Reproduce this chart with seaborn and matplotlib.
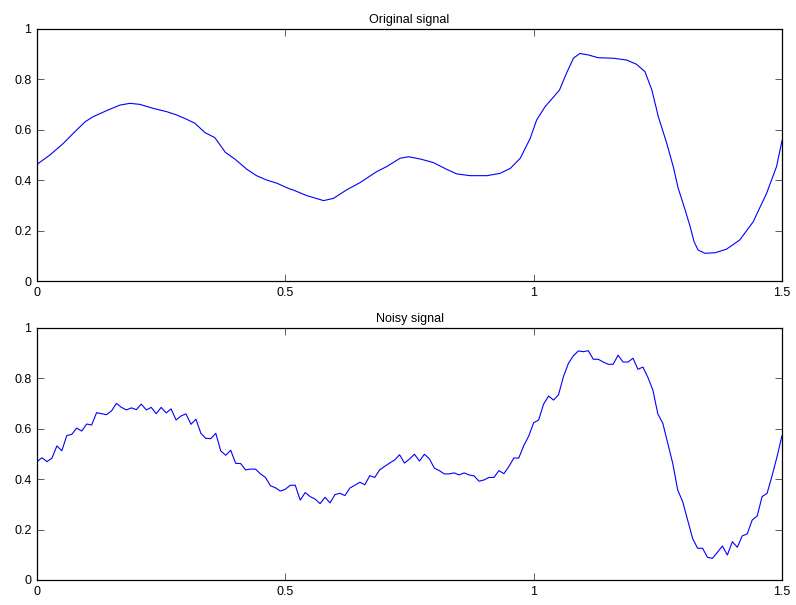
import numpy as np
import pandas as pd
import matplotlib
matplotlib.use("Agg")
import matplotlib.pyplot as plt
import seaborn as sns

# Original (smooth) signal
orig_x = [0.000, 0.026, 0.053, 0.073, 0.097, 0.113, 0.140, 0.167, 0.187, 0.207,
          0.234, 0.261, 0.281, 0.301, 0.318, 0.338, 0.358, 0.379, 0.399, 0.422,
          0.442, 0.462, 0.483, 0.508, 0.516, 0.543, 0.577, 0.597, 0.623, 0.650,
          0.684, 0.704, 0.731, 0.748, 0.772, 0.798, 0.825, 0.845, 0.872, 0.906,
          0.932, 0.953, 0.973, 0.993, 1.006, 1.023, 1.036, 1.052, 1.066, 1.080,
          1.093, 1.110, 1.130, 1.160, 1.187, 1.207, 1.224, 1.238, 1.251, 1.268,
          1.281, 1.291, 1.305, 1.315, 1.323, 1.331, 1.345, 1.365, 1.388, 1.415,
          1.442, 1.469, 1.489, 1.500]
orig_y = [0.463, 0.500, 0.546, 0.586, 0.632, 0.652, 0.676, 0.698, 0.705, 0.701,
          0.685, 0.672, 0.659, 0.642, 0.626, 0.589, 0.569, 0.511, 0.483, 0.444,
          0.418, 0.401, 0.388, 0.366, 0.361, 0.339, 0.319, 0.328, 0.361, 0.390,
          0.434, 0.454, 0.487, 0.493, 0.484, 0.470, 0.443, 0.425, 0.418, 0.418,
          0.427, 0.447, 0.487, 0.566, 0.639, 0.692, 0.721, 0.758, 0.824, 0.884,
          0.903, 0.897, 0.886, 0.884, 0.877, 0.860, 0.831, 0.758, 0.652, 0.546,
          0.454, 0.368, 0.282, 0.216, 0.156, 0.123, 0.110, 0.112, 0.126, 0.163,
          0.235, 0.348, 0.454, 0.557]

# Noisy signal: samples every 0.01 from 0 to 1.5
noisy_y = [0.470, 0.485, 0.470, 0.483, 0.532, 0.513, 0.573, 0.578, 0.603, 0.591,
           0.619, 0.615, 0.664, 0.660, 0.656, 0.671, 0.701, 0.685, 0.675, 0.683,
           0.676, 0.698, 0.675, 0.685, 0.660, 0.685, 0.663, 0.679, 0.635, 0.651,
           0.659, 0.618, 0.638, 0.582, 0.562, 0.561, 0.582, 0.512, 0.495, 0.515,
           0.463, 0.462, 0.437, 0.440, 0.440, 0.421, 0.407, 0.374, 0.366, 0.353,
           0.360, 0.376, 0.376, 0.317, 0.347, 0.331, 0.321, 0.303, 0.328, 0.306,
           0.339, 0.344, 0.335, 0.365, 0.376, 0.388, 0.378, 0.414, 0.407, 0.437,
           0.451, 0.464, 0.476, 0.497, 0.464, 0.480, 0.499, 0.472, 0.499, 0.481,
           0.444, 0.434, 0.421, 0.421, 0.425, 0.417, 0.425, 0.417, 0.413, 0.392,
           0.397, 0.407, 0.407, 0.434, 0.422, 0.450, 0.484, 0.484, 0.533, 0.571,
           0.624, 0.635, 0.698, 0.730, 0.714, 0.735, 0.807, 0.860, 0.890, 0.909,
           0.906, 0.910, 0.876, 0.876, 0.865, 0.856, 0.856, 0.892, 0.865, 0.865,
           0.880, 0.836, 0.845, 0.804, 0.754, 0.659, 0.622, 0.542, 0.463, 0.357,
           0.311, 0.238, 0.165, 0.126, 0.126, 0.090, 0.086, 0.110, 0.135, 0.099,
           0.152, 0.130, 0.175, 0.183, 0.238, 0.254, 0.331, 0.344, 0.414, 0.489,
           0.573]
noisy_x = [round(i * 0.01, 2) for i in range(len(noisy_y))]

titles = ["Original signal", "Noisy signal"]
x_ticks = [0, 0.5, 1, 1.5]
x_labels = ["0", "0.5", "1", "1.5"]
y_ticks = [0, 0.2, 0.4, 0.6, 0.8, 1]
y_labels = ["0", "0.2", "0.4", "0.6", "0.8", "1"]

sns.set_theme(style="white")
plt.rcParams["font.family"] = ["Liberation Sans", "DejaVu Sans"]
plt.rcParams["font.size"] = 9

fig = plt.figure(figsize=(7.96, 6.05), dpi=100)
ax1 = fig.add_axes([37/796, 1 - 281/605, 745/796, 252/605])
ax2 = fig.add_axes([37/796, 1 - 580/605, 745/796, 252/605])

df1 = pd.DataFrame({"x": orig_x, "y": orig_y})
df2 = pd.DataFrame({"x": noisy_x, "y": noisy_y})

for ax, df, title in [(ax1, df1, titles[0]), (ax2, df2, titles[1])]:
    sns.lineplot(data=df, x="x", y="y", ax=ax, color="#0000ff",
                 linewidth=0.8, estimator=None, sort=False)
    ax.set_xlim(0, 1.5)
    ax.set_ylim(0, 1)
    ax.set_xticks(x_ticks)
    ax.set_xticklabels(x_labels)
    ax.set_yticks(y_ticks)
    ax.set_yticklabels(y_labels)
    ax.set_xlabel("")
    ax.set_ylabel("")
    ax.set_title(title, fontsize=9, pad=4, color="black")
    ax.tick_params(direction="in", length=5, width=0.6, color="#444444",
                   labelsize=9, labelcolor="black", top=True, right=True,
                   bottom=True, left=True, pad=4)
    for s in ax.spines.values():
        s.set_visible(True)
        s.set_color("black")
        s.set_linewidth(0.9)
    ax.set_facecolor("white")

fig.savefig("out.png", dpi=100, facecolor="white")
